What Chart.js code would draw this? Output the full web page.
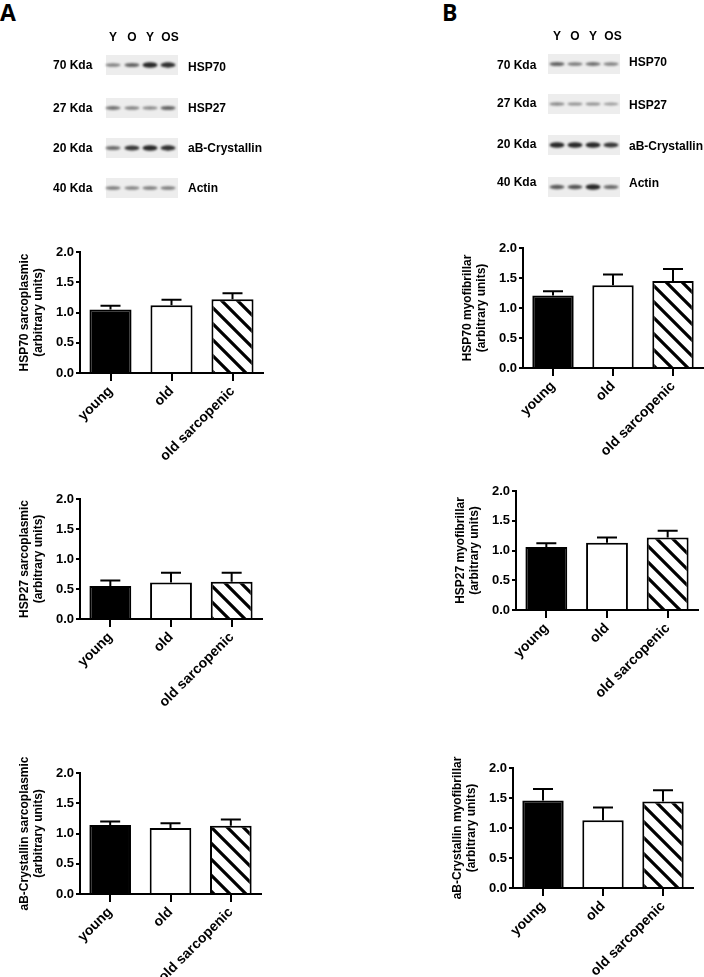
<!DOCTYPE html>
<html>
<head>
<meta charset="utf-8">
<script src="https://cdn.jsdelivr.net/npm/chart.js@4.4.1/dist/chart.umd.min.js"></script>
<style>
body { margin: 0; width: 704px; height: 977px; position: relative; overflow: hidden; background: #fff; font-family: "Liberation Sans", Arial, sans-serif; }
.t { position: absolute; font-weight: bold; font-size: 12px; line-height: 1; white-space: nowrap; color: #000; transform: translateY(-50%); }
.c { transform: translate(-50%, -50%); }
.panel { position: absolute; font-family: "Open Sans", sans-serif; font-weight: bold; font-size: 23px; line-height: 1; }
canvas { position: absolute; }
</style>
</head>
<body>
<div class="panel" style="left:0px;top:1px">A</div>
<div class="panel" style="left:442px;top:1px">B</div>
<canvas id="blots" width="704" height="210" style="left:0;top:0"></canvas>
<div id="labels"></div>

<script>
// categories and values (mean, SEM)
var groups = ["young", "old", "old sarcopenic"];
var yTicks = [0, 0.5, 1.0, 1.5, 2.0];

var hsp70Sarco = [1.05, 1.12, 1.22];
var hsp70SarcoErr = [0.06, 0.09, 0.10];
var hsp70Myo = [1.21, 1.38, 1.45];
var hsp70MyoErr = [0.07, 0.18, 0.20];
var hsp27Sarco = [0.55, 0.61, 0.62];
var hsp27SarcoErr = [0.09, 0.16, 0.15];
var hsp27Myo = [1.06, 1.13, 1.22];
var hsp27MyoErr = [0.06, 0.09, 0.11];
var abSarco = [1.14, 1.09, 1.13];
var abSarcoErr = [0.06, 0.08, 0.10];
var abMyo = [1.46, 1.13, 1.44];
var abMyoErr = [0.19, 0.21, 0.19];

// western blot band intensities (lanes Y, O, Y, OS)
var lanes = ["Y", "O", "Y", "OS"];
var proteins = ["HSP70", "HSP27", "aB-Crystallin", "Actin"];
var weights = ["70 Kda", "27 Kda", "20 Kda", "40 Kda"];
var bandsA = [[0.35, 0.55, 0.95, 0.9], [0.45, 0.35, 0.3, 0.55], [0.5, 0.85, 0.95, 0.9], [0.4, 0.35, 0.4, 0.4]];
var bandsB = [[0.55, 0.4, 0.45, 0.35], [0.3, 0.25, 0.25, 0.2], [0.95, 0.95, 0.95, 0.85], [0.6, 0.65, 0.95, 0.5]];

// ---- blots (decoration drawn with plain canvas) ----
var blotLayout = [
    { bands: bandsA, laneX: [113, 132, 150, 168], stripX: [106, 178], wX: 53, pX: 188, rowY: [65, 108, 148, 188], pY: [67, 108, 148, 188], wY: [65, 108, 148, 188], headY: 37 },
    { bands: bandsB, laneX: [557, 575, 593, 611], stripX: [548, 620], wX: 497, pX: 629, rowY: [64, 104, 145, 187], pY: [62, 105, 146, 183], wY: [65, 103, 144, 182], headY: 36 }
];

var bctx = document.getElementById("blots").getContext("2d");
var labels = document.getElementById("labels");

function addText(txt, x, y, center) {
    var d = document.createElement("div");
    d.className = center ? "t c" : "t";
    d.style.left = x + "px";
    d.style.top = y + "px";
    d.textContent = txt;
    labels.appendChild(d);
}

blotLayout.forEach(function (b) {
    lanes.forEach(function (l, i) { addText(l, b.laneX[i] + (l == "OS" ? 2 : 0), b.headY, true); });
    for (var r = 0; r < 4; r++) {
        var cy = b.rowY[r];
        bctx.fillStyle = "#ededed";
        bctx.fillRect(b.stripX[0], cy - 10, b.stripX[1] - b.stripX[0], 20);
        bctx.save();
        bctx.filter = "blur(1.3px)";
        for (var i = 0; i < 4; i++) {
            var v = b.bands[r][i];
            bctx.fillStyle = "rgba(20,20,20," + (0.25 + 0.7 * v) + ")";
            bctx.beginPath();
            bctx.ellipse(b.laneX[i], cy, 7.5, 1.2 + 1.6 * v, 0, 0, Math.PI * 2);
            bctx.fill();
        }
        bctx.restore();
        addText(weights[r], b.wX, b.wY[r], false);
        addText(proteins[r], b.pX, b.pY[r], false);
    }
});

// ---- hatch pattern for the old sarcopenic bars ----
function hatch() {
    var p = document.createElement("canvas");
    p.width = 16; p.height = 16;
    var g = p.getContext("2d");
    g.fillStyle = "#fff";
    g.fillRect(0, 0, 16, 16);
    g.strokeStyle = "#000";
    g.lineWidth = 3.2;
    g.beginPath();
    g.moveTo(-2, -2); g.lineTo(18, 18);
    g.moveTo(-2, 14); g.lineTo(2, 18);
    g.moveTo(14, -2); g.lineTo(18, 2);
    g.stroke();
    return g.createPattern(p, "repeat");
}

// error bars (upper only) drawn through the chart scales
var errorBars = {
    id: "errorBars",
    afterDatasetsDraw: function (chart) {
        var ctx = chart.ctx;
        var yScale = chart.scales.y;
        var ds = chart.data.datasets[0];
        var meta = chart.getDatasetMeta(0);
        ctx.save();
        ctx.strokeStyle = "#000";
        ctx.lineWidth = 2;
        meta.data.forEach(function (bar, i) {
            var v = ds.data[i], e = ds.err[i];
            var y0 = yScale.getPixelForValue(v);
            var y1 = yScale.getPixelForValue(v + e);
            ctx.beginPath();
            ctx.moveTo(bar.x, y0);
            ctx.lineTo(bar.x, y1);
            ctx.moveTo(bar.x - 10, y1);
            ctx.lineTo(bar.x + 10, y1);
            ctx.stroke();
        });
        ctx.restore();
    }
};

var YW = 80, PT = 45, PR = 10, XH = 100;

function makeChart(area, values, errs, title) {
    var cv = document.createElement("canvas");
    var w = YW + (area.r - area.l) + PR;
    var h = PT + (area.b - area.t) + XH;
    cv.width = w; cv.height = h;
    cv.style.left = (area.l - YW) + "px";
    cv.style.top = (area.t - PT) + "px";
    cv.style.width = w + "px";
    cv.style.height = h + "px";
    document.body.appendChild(cv);

    var fam = "'Liberation Sans', Arial, sans-serif";

    new Chart(cv.getContext("2d"), {
        type: "bar",
        data: {
            labels: groups,
            datasets: [{
                data: values,
                err: errs,
                backgroundColor: ["#000", "#fff", hatch()],
                borderColor: "#000",
                borderWidth: 2,
                borderSkipped: "bottom",
                categoryPercentage: 1,
                barPercentage: 0.69
            }]
        },
        options: {
            responsive: false,
            animation: false,
            devicePixelRatio: 1,
            layout: { padding: { top: PT, right: PR, left: 0, bottom: 0 } },
            plugins: { legend: { display: false }, tooltip: { enabled: false } },
            scales: {
                x: {
                    offset: true,
                    grid: { display: true, offset: false, drawOnChartArea: false, tickLength: 8, color: "#000", lineWidth: 2 },
                    border: { display: true, color: "#000", width: 2 },
                    ticks: { color: "#000", font: { family: fam, size: 14, weight: "bold" }, maxRotation: 45, minRotation: 45, padding: 2, autoSkip: false },
                    afterFit: function (s) { s.height = XH; }
                },
                y: {
                    min: yTicks[0],
                    max: yTicks[yTicks.length - 1],
                    afterBuildTicks: function (s) { s.ticks = yTicks.map(function (v) { return { value: v }; }); },
                    grid: { display: true, drawOnChartArea: false, tickLength: 4, color: "#000", lineWidth: 2 },
                    border: { display: true, color: "#000", width: 2 },
                    ticks: { color: "#000", font: { family: fam, size: 13, weight: "bold" }, padding: 2, callback: function (v) { return Number(v).toFixed(1); } },
                    title: {
                        display: true,
                        text: [title, "(arbitrary units)"],
                        color: "#000",
                        font: { family: fam, size: 12, weight: "bold", lineHeight: 1.2 },
                        padding: { top: 17, bottom: 0 }
                    },
                    afterFit: function (s) { s.width = YW; }
                }
            }
        },
        plugins: [errorBars]
    });
}

makeChart({ l: 80, t: 252, r: 263, b: 373 }, hsp70Sarco, hsp70SarcoErr, "HSP70 sarcoplasmic");
makeChart({ l: 523, t: 248, r: 703, b: 368 }, hsp70Myo, hsp70MyoErr, "HSP70 myofibrillar");
makeChart({ l: 80, t: 499, r: 262, b: 619 }, hsp27Sarco, hsp27SarcoErr, "HSP27 sarcoplasmic");
makeChart({ l: 516, t: 491, r: 698, b: 610 }, hsp27Myo, hsp27MyoErr, "HSP27 myofibrillar");
makeChart({ l: 80, t: 773, r: 261, b: 894 }, abSarco, abSarcoErr, "aB-Crystallin sarcoplasmic");
makeChart({ l: 513, t: 768, r: 693, b: 888 }, abMyo, abMyoErr, "aB-Crystallin myofibrillar");
</script>
</body>
</html>
